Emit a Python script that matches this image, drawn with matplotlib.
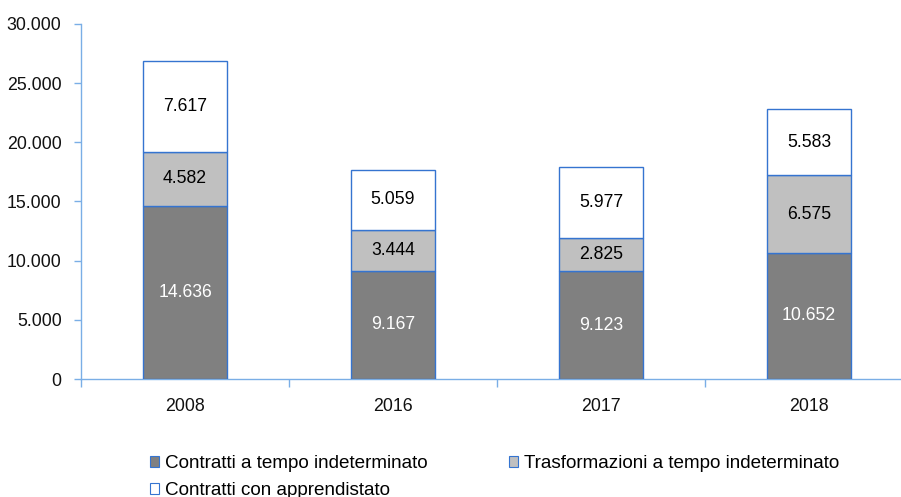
import matplotlib.pyplot as plt
import numpy as np
from matplotlib.patches import Patch
from matplotlib.ticker import FuncFormatter
from matplotlib.font_manager import FontProperties

years = ["2008", "2016", "2017", "2018"]
indeterminato = [14636, 9167, 9123, 10652]
trasformazioni = [4582, 3444, 2825, 6575]
apprendistato = [7617, 5059, 5977, 5583]
series_names = ["Contratti a tempo indeterminato",
                "Trasformazioni a tempo indeterminato",
                "Contratti con apprendistato"]
colors = ["#808080", "#c0c0c0", "#ffffff"]
text_colors = ["white", "black", "black"]

edge = "#3574d0"
spine_col = "#7aaee6"
font = ["Liberation Sans", "DejaVu Sans"]


def fmt_it(v, pos=None):
    return f"{int(v):,}".replace(",", ".")


fig = plt.figure(figsize=(9.01, 4.97), dpi=100)
ax = fig.add_axes([81 / 901, 118 / 497, 832 / 901, 355 / 497])

x = np.arange(len(years))
bottom = np.zeros(len(years))
handles = []
for vals, col, tcol, name in zip([indeterminato, trasformazioni, apprendistato],
                                 colors, text_colors, series_names):
    vals = np.array(vals)
    ax.bar(x, vals, 0.4, bottom=bottom, color=col, edgecolor=edge,
           linewidth=1.0, zorder=3)
    for xi, b, v in zip(x, bottom, vals):
        ax.text(xi, b + v / 2, fmt_it(v), ha="center", va="center",
                color=tcol, fontsize=12.7, family=font, zorder=4)
    bottom = bottom + vals
    handles.append(Patch(facecolor=col, edgecolor=edge, linewidth=0.8, label=name))

ax.set_xlim(-0.5, 3.5)
ax.set_ylim(0, 30000)
ax.set_yticks(np.arange(0, 30001, 5000))
ax.yaxis.set_major_formatter(FuncFormatter(fmt_it))

ax.set_xticks(np.arange(-0.5, 3.6, 1.0))
ax.set_xticklabels([])
ax.set_xticks(x, minor=True)
ax.set_xticklabels(years, minor=True)

for s in ["top", "right"]:
    ax.spines[s].set_visible(False)
for s in ["left", "bottom"]:
    ax.spines[s].set_color(spine_col)
    ax.spines[s].set_linewidth(1.0)

ax.tick_params(axis="y", length=5, width=1, color=spine_col, pad=9,
               labelsize=12.8, labelcolor="#111111")
ax.tick_params(axis="x", which="major", length=6, width=1, color=spine_col)
ax.tick_params(axis="x", which="minor", length=0, pad=14,
               labelsize=12.8, labelcolor="#111111")
for lab in ax.get_yticklabels() + ax.get_xticklabels(minor=True):
    lab.set_family(font)

leg_font = FontProperties(family=font, size=13.6)
leg = fig.legend([handles[0], handles[2], handles[1]],
                 [series_names[0], series_names[2], series_names[1]],
                 ncol=2, loc="upper left", bbox_to_anchor=(150 / 901, 1 - 455 / 497),
                 frameon=False, handlelength=0.5, handleheight=0.5,
                 handletextpad=0.3, columnspacing=4.3, labelspacing=0.52,
                 borderaxespad=0, borderpad=0, prop=leg_font)

fig.savefig("out.png", dpi=100)
